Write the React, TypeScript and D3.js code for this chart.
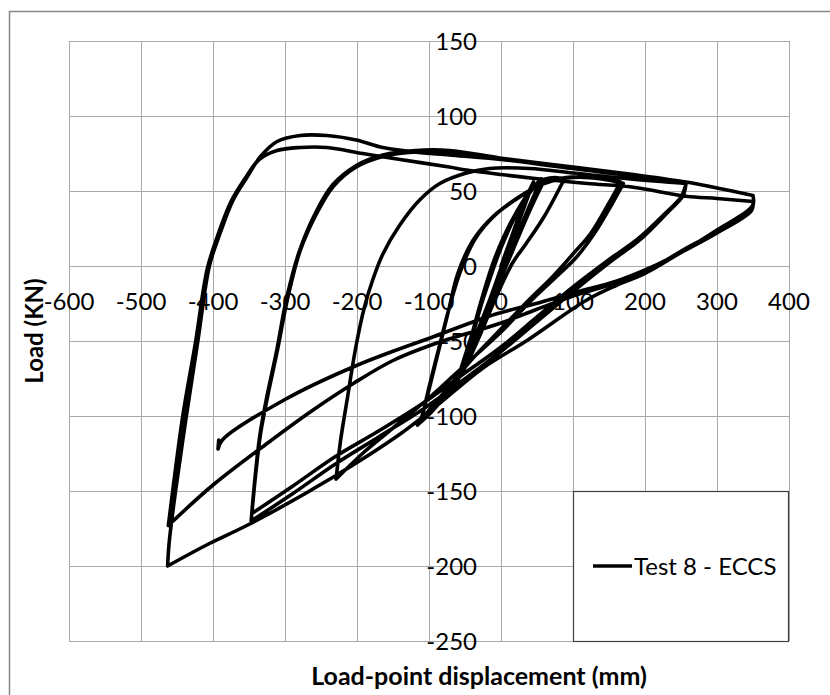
import React, { useRef, useEffect } from 'react'
import * as d3 from 'd3'

// axis ticks
const xTicks = [-600, -500, -400, -300, -200, -100, 0, 100, 200, 300, 400]
const yTicks = [-250, -200, -150, -100, -50, 0, 50, 100, 150]

// hysteresis branches, [displacement mm, load kN], in test order
const elasticUp0 = [[0, 0], [15, 20], [30, 40], [42, 53], [45, 56]]
const elasticDown1 = [[45, 56], [25, 30], [5, 5], [-20, -28], [-45, -58], [-58, -72]]
const elasticUp1 = [[-58, -72], [-40, -45], [-20, -15], [0, 12], [25, 38], [48, 54], [56, 58]]
const elasticDown2 = [[56, 58], [35, 35], [12, 8], [-15, -25], [-40, -55], [-62, -78]]
const elasticUp2 = [[-62, -78], [-47, -57], [-28, -24], [-8, 6], [18, 33], [44, 52], [60, 57]]
const elasticDown3 = [[60, 57], [40, 37], [16, 10], [-12, -22], [-38, -54], [-66, -82]]
const elasticUp3 = [[-66, -82], [-45, -55], [-25, -22], [-5, 8], [20, 34], [45, 52], [62, 58], [75, 59], [88, 58]]
const down1a = [[88, 58], [60, 33], [35, 15], [16, 2], [-8, -22], [-30, -47], [-55, -72], [-80, -88], [-100, -99], [-116, -106]]
const up1a = [[-116, -106], [-112, -103], [-104, -90], [-90, -63], [-74, -32], [-60, -5], [-39, 17], [-11, 33], [26, 46], [59, 55], [90, 59], [130, 59], [166, 56]]
const down1b = [[166, 56], [150, 42], [125, 22], [100, 8], [70, -8], [40, -22], [0, -42], [-40, -62], [-75, -82], [-110, -102]]
const up1b = [[-110, -102], [-102, -85], [-88, -58], [-72, -28], [-56, -3], [-36, 18], [-8, 34], [28, 47], [60, 55], [100, 59], [140, 58], [170, 55]]
const down2 = [[170, 55], [155, 42], [130, 22], [105, 6], [75, -8], [40, -24], [0, -44], [-50, -66], [-100, -88], [-150, -108], [-190, -124], [-229, -142]]
const up2 = [[-229, -142], [-223, -117], [-214, -90], [-202, -55], [-190, -28], [-178, -9], [-164, 8], [-141, 27], [-113, 44], [-85, 55], [-48, 62], [-16, 65], [40, 65], [100, 62], [180, 58], [257, 55]]
const down3a = [[257, 55], [250, 46], [230, 36], [190, 18], [155, 6], [100, -14], [50, -34], [0, -54], [-55, -73], [-110, -92], [-170, -110], [-230, -127], [-290, -147], [-346, -165]]
const up3a = [[-346, -165], [-341, -140], [-334, -112], [-325, -89], [-310, -55], [-297, -23], [-279, 10], [-256, 35], [-233, 53], [-201, 66], [-164, 73], [-118, 76], [-72, 76], [-2, 72], [100, 66], [184, 61], [257, 56]]
const down3b = [[257, 56], [253, 47], [232, 36], [192, 17], [155, 4], [100, -17], [50, -37], [0, -57], [-55, -77], [-110, -96], [-170, -114], [-230, -132], [-290, -152], [-347, -170]]
const up3b = [[-347, -170], [-342, -143], [-335, -113], [-326, -89], [-311, -55], [-298, -22], [-280, 10], [-257, 36], [-234, 54], [-201, 67], [-164, 74], [-118, 77], [-72, 77], [-2, 72], [100, 65], [184, 60], [257, 56], [300, 52], [350, 47]]
const down4a = [[350, 47], [349, 40], [300, 24], [250, 9], [200, -5], [160, -13], [118, -23], [35, -50], [-25, -68], [-94, -95], [-140, -112], [-234, -141], [-349, -172], [-405, -185], [-463, -200]]
const up4a = [[-463, -200], [-461, -185], [-452, -150], [-437, -100], [-421, -50], [-405, 0], [-390, 22], [-372, 44], [-353, 59], [-334, 73], [-311, 83], [-279, 87], [-242, 87], [-201, 84], [-164, 79], [-120, 76], [-72, 74], [0, 71], [100, 65], [184, 60.5], [257, 56], [300, 52], [350, 47]]
const down4b = [[350, 47], [349, 39], [300, 23], [254, 11], [208, -2], [161, -11], [100, -20], [49, -29], [0, -38], [-93, -52], [-150, -63], [-204, -78], [-264, -97], [-324, -118], [-400, -146], [-462, -173]]
const up4b = [[-462, -173], [-456, -150], [-442, -100], [-424, -50], [-408, -2], [-393, 21], [-375, 43], [-356, 58], [-336, 71], [-311, 77], [-279, 79], [-242, 79], [-192, 75], [-140, 71], [-72, 66], [-48, 64], [0, 61], [54, 58], [120, 55], [184, 52.5], [257, 46.5], [300, 45], [350, 43]]
const downEnd = [[350, 43], [348, 37], [300, 22], [254, 10], [208, -1], [161, -10], [100, -18], [49, -25], [-7, -32], [-93, -47], [-199, -66], [-300, -89], [-387, -116], [-393, -122]]
const endTick = [[-393, -122], [-392, -116]]

const branches = [
  elasticUp0, elasticDown1, elasticUp1, elasticDown2, elasticUp2, elasticDown3, elasticUp3,
  down1a, up1a, down1b, up1b, down2, up2,
  down3a, up3a, down3b, up3b, down4a, up4a, down4b, up4b, downEnd, endTick,
]

const seriesName = 'Test 8 - ECCS'
const xTitle = 'Load-point displacement (mm)'
const yTitle = 'Load (KN)'

const W = 830
const H = 695
const FONT = 'Lato, "Open Sans", sans-serif'

const App: React.FC = () => {
  const svgRef = useRef<SVGSVGElement>(null)

  useEffect(() => {
    const svg = d3.select(svgRef.current!)
    svg.selectAll('*').remove()

    const x = d3.scaleLinear().domain([-600, 400]).range([69, 789])
    const y = d3.scaleLinear().domain([-250, 150]).range([641, 41])

    svg.append('rect').attr('width', W).attr('height', H).attr('fill', 'white')

    // chart area frame (runs off the right/bottom of the crop)
    svg.append('rect')
      .attr('x', 9.5).attr('y', 11.5)
      .attr('width', 900).attr('height', 800)
      .attr('fill', 'none')
      .attr('stroke', '#868686')
      .attr('stroke-width', 1.5)

    // gridlines
    const grid = svg.append('g').attr('stroke', '#a9a9a9').attr('stroke-width', 1)
    xTicks.forEach(t => {
      grid.append('line')
        .attr('x1', Math.round(x(t)) + 0.5).attr('x2', Math.round(x(t)) + 0.5)
        .attr('y1', y(150)).attr('y2', y(-250))
    })
    yTicks.forEach(t => {
      grid.append('line')
        .attr('x1', x(-600)).attr('x2', x(400))
        .attr('y1', Math.round(y(t)) + 0.5).attr('y2', Math.round(y(t)) + 0.5)
    })

    // tick labels (axes cross at 0, labels sit off the axis)
    const labels = svg.append('g')
      .style('font-family', FONT)
      .style('font-size', '24px')
      .attr('fill', '#000')
    xTicks.forEach(t => {
      labels.append('text')
        .attr('x', x(t))
        .attr('y', y(0) + 44)
        .attr('text-anchor', 'middle')
        .text(t)
    })
    yTicks.forEach(t => {
      labels.append('text')
        .attr('x', x(0) - 24)
        .attr('y', y(t))
        .attr('dy', '0.36em')
        .attr('text-anchor', 'end')
        .text(t)
    })

    // axis titles
    svg.append('text')
      .attr('x', 479)
      .attr('y', 685)
      .attr('text-anchor', 'middle')
      .style('font-family', FONT)
      .style('font-size', '25px')
      .style('font-weight', 'bold')
      .text(xTitle)

    svg.append('text')
      .attr('transform', 'translate(43,331) rotate(-90)')
      .attr('text-anchor', 'middle')
      .style('font-family', FONT)
      .style('font-size', '24px')
      .style('font-weight', 'bold')
      .text(yTitle)

    // the load-displacement path: each branch smoothed, sharp at reversals
    const line = d3.line<number[]>()
      .x(d => x(d[0]))
      .y(d => y(d[1]))
      .curve(d3.curveCatmullRom.alpha(0.5))

    svg.append('path')
      .attr('d', branches.map(b => line(b)).join(''))
      .attr('fill', 'none')
      .attr('stroke', '#000')
      .attr('stroke-width', 3.6)
      .attr('stroke-linejoin', 'round')
      .attr('stroke-linecap', 'round')

    // legend
    const lx = x(100)
    const ly = y(-150)
    const legend = svg.append('g')
    legend.append('rect')
      .attr('x', Math.round(lx) + 0.5).attr('y', Math.round(ly) + 0.5)
      .attr('width', 215).attr('height', y(-250) - ly)
      .attr('fill', 'white')
      .attr('stroke', '#404040')
      .attr('stroke-width', 1.2)
    legend.append('line')
      .attr('x1', lx + 20).attr('x2', lx + 59)
      .attr('y1', ly + 75).attr('y2', ly + 75)
      .attr('stroke', '#000')
      .attr('stroke-width', 3.5)
    legend.append('text')
      .attr('x', lx + 61)
      .attr('y', ly + 84)
      .style('font-family', FONT)
      .style('font-size', '24px')
      .text(seriesName)
  }, [])

  return (
    <svg
      ref={svgRef}
      width={W}
      height={H}
      style={{ position: 'absolute', left: 0, top: 0 }}
    />
  )
}

export default App
